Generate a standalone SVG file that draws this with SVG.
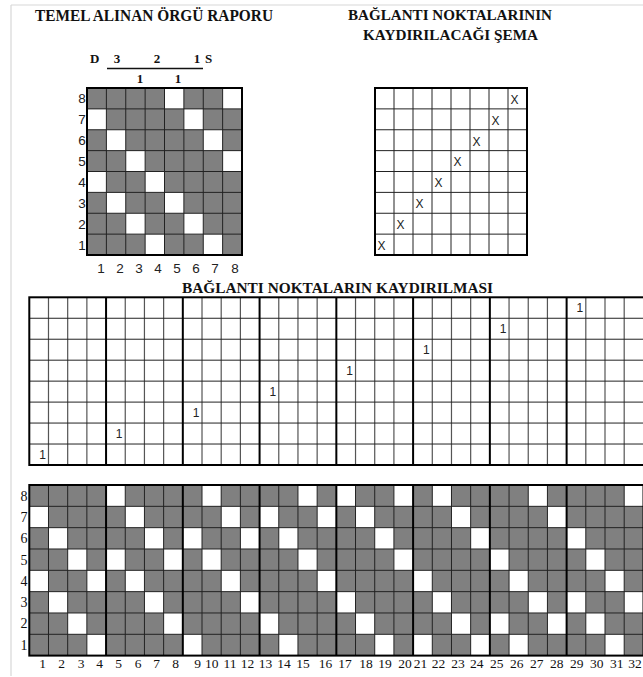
<svg xmlns="http://www.w3.org/2000/svg" width="643" height="677" viewBox="0 0 643 677">
<style>
.ttl{font-family:"Liberation Serif","Times New Roman",serif;font-weight:bold;fill:#111}
.ser{font-family:"Liberation Serif","Times New Roman",serif;fill:#111}
.sans{font-family:"Liberation Sans",Arial,sans-serif;fill:#222}
.gl{fill:none;stroke:#222;stroke-width:1}
.gl2{fill:none;stroke:#555;stroke-width:1.2}
.blk{fill:none;stroke:#000;stroke-width:2}
.wc{fill:#fff}
</style>
<rect x="0" y="0" width="643" height="677" fill="#fff"/>
<path d="M11 5H643M11 5V676" stroke="#d8d8d8" stroke-width="1.2" fill="none"/>

<g id="title-left">
<text class="ttl" x="35" y="21" font-size="16" textLength="238" lengthAdjust="spacingAndGlyphs">TEMEL ALINAN ÖRGÜ RAPORU</text>
</g>
<g id="title-right">
<text class="ttl" x="348" y="20" font-size="15.5" textLength="204" lengthAdjust="spacingAndGlyphs">BAĞLANTI NOKTALARININ</text>
<text class="ttl" x="363" y="40" font-size="15.5" textLength="175" lengthAdjust="spacingAndGlyphs">KAYDIRILACAĞI ŞEMA</text>
</g>

<g id="header-notation">
<text class="ttl" font-size="13" x="90" y="63">D</text>
<text class="ttl" font-size="13" x="117" y="63" text-anchor="middle">3</text>
<text class="ttl" font-size="13" x="157" y="63" text-anchor="middle">2</text>
<text class="ttl" font-size="13" x="197" y="63" text-anchor="middle">1</text>
<text class="ttl" font-size="13" x="205" y="63">S</text>
<path d="M107 68.5H203" stroke="#111" stroke-width="1.4"/>
<text class="ttl" font-size="13" x="140" y="83" text-anchor="middle">1</text>
<text class="ttl" font-size="13" x="178" y="83" text-anchor="middle">1</text>
</g>

<g id="base-report">
<rect x="87" y="88" width="155" height="167" fill="#808080"/>
<g transform="translate(87,88) scale(19.375,20.875)">
<path class="wc" d="M4 0h1v1h-1zM7 0h1v1h-1zM0 1h1v1h-1zM5 1h1v1h-1zM1 2h1v1h-1zM6 2h1v1h-1zM2 3h1v1h-1zM7 3h1v1h-1zM0 4h1v1h-1zM3 4h1v1h-1zM1 5h1v1h-1zM4 5h1v1h-1zM2 6h1v1h-1zM5 6h1v1h-1zM3 7h1v1h-1zM6 7h1v1h-1z"/>
<path class="gl" vector-effect="non-scaling-stroke" d="M1 0V8M2 0V8M3 0V8M4 0V8M5 0V8M6 0V8M7 0V8M0 1H8M0 2H8M0 3H8M0 4H8M0 5H8M0 6H8M0 7H8"/>
</g>
<rect class="blk" x="87" y="88" width="155" height="167"/>
<g class="sans" font-size="13.5" text-anchor="middle">
<text x="82" y="103.4">8</text>
<text x="82" y="124.3">7</text>
<text x="82" y="145.2">6</text>
<text x="82" y="166">5</text>
<text x="82" y="186.9">4</text>
<text x="82" y="207.8">3</text>
<text x="82" y="228.6">2</text>
<text x="82" y="249.5">1</text>
<text x="101" y="273">1</text>
<text x="120" y="273">2</text>
<text x="139" y="273">3</text>
<text x="158" y="273">4</text>
<text x="177" y="273">5</text>
<text x="196" y="273">6</text>
<text x="215" y="273">7</text>
<text x="235" y="273">8</text>
</g>
</g>

<g id="shift-scheme">
<g transform="translate(375,88) scale(19,20.875)">
<path class="gl" vector-effect="non-scaling-stroke" d="M1 0V8M2 0V8M3 0V8M4 0V8M5 0V8M6 0V8M7 0V8M0 1H8M0 2H8M0 3H8M0 4H8M0 5H8M0 6H8M0 7H8"/>
</g>
<rect class="blk" x="375" y="88" width="152" height="167"/>
<g class="sans" font-size="12" text-anchor="middle">
<text x="381.5" y="249.5">X</text>
<text x="400.5" y="228.8">X</text>
<text x="419.5" y="208">X</text>
<text x="438.5" y="187">X</text>
<text x="457.5" y="166.3">X</text>
<text x="476.5" y="145.5">X</text>
<text x="495.5" y="124.7">X</text>
<text x="514.5" y="104">X</text>
</g>
</g>

<g id="title-middle">
<text class="ttl" x="182" y="292.5" font-size="15.5" textLength="311" lengthAdjust="spacingAndGlyphs">BAĞLANTI NOKTALARIN KAYDIRILMASI</text>
</g>

<g id="shift-grid">
<g transform="translate(29.3,297.3) scale(19.19,20.96)">
<path class="gl2" vector-effect="non-scaling-stroke" d="M1 0V8M2 0V8M3 0V8M5 0V8M6 0V8M7 0V8M9 0V8M10 0V8M11 0V8M13 0V8M14 0V8M15 0V8M17 0V8M18 0V8M19 0V8M21 0V8M22 0V8M23 0V8M25 0V8M26 0V8M27 0V8M29 0V8M30 0V8M31 0V8"/>
<path class="gl" vector-effect="non-scaling-stroke" d="M0 1H32M0 2H32M0 3H32M0 4H32M0 5H32M0 6H32M0 7H32"/>
<path class="blk" vector-effect="non-scaling-stroke" d="M4 0V8M8 0V8M12 0V8M16 0V8M20 0V8M24 0V8M28 0V8"/>
</g>
<rect class="blk" x="29.3" y="297.3" width="616" height="167.7"/>
<g class="sans" font-size="12" text-anchor="middle">
<text x="42.6" y="458.5">1</text>
<text x="119.2" y="437.5">1</text>
<text x="196" y="416.6">1</text>
<text x="272.8" y="395.6">1</text>
<text x="349.5" y="374.7">1</text>
<text x="426.3" y="353.7">1</text>
<text x="503" y="332.7">1</text>
<text x="579.8" y="311.8">1</text>
</g>
</g>

<g id="result-grid">
<rect x="29.3" y="485" width="614.2" height="170.6" fill="#808080"/>
<g transform="translate(29.3,485) scale(19.19,21.33)">
<path class="wc" d="M4 0h1v1h-1zM9 0h1v1h-1zM14 0h1v1h-1zM16 0h1v1h-1zM19 0h1v1h-1zM21 0h1v1h-1zM26 0h1v1h-1zM31 0h1v1h-1zM0 1h1v1h-1zM5 1h1v1h-1zM10 1h1v1h-1zM12 1h1v1h-1zM15 1h1v1h-1zM17 1h1v1h-1zM22 1h1v1h-1zM27 1h1v1h-1zM1 2h1v1h-1zM6 2h1v1h-1zM8 2h1v1h-1zM11 2h1v1h-1zM13 2h1v1h-1zM18 2h1v1h-1zM23 2h1v1h-1zM28 2h1v1h-1zM2 3h1v1h-1zM4 3h1v1h-1zM7 3h1v1h-1zM9 3h1v1h-1zM14 3h1v1h-1zM19 3h1v1h-1zM24 3h1v1h-1zM29 3h1v1h-1zM0 4h1v1h-1zM3 4h1v1h-1zM5 4h1v1h-1zM10 4h1v1h-1zM15 4h1v1h-1zM20 4h1v1h-1zM25 4h1v1h-1zM30 4h1v1h-1zM1 5h1v1h-1zM6 5h1v1h-1zM11 5h1v1h-1zM16 5h1v1h-1zM21 5h1v1h-1zM26 5h1v1h-1zM28 5h1v1h-1zM31 5h1v1h-1zM2 6h1v1h-1zM7 6h1v1h-1zM12 6h1v1h-1zM17 6h1v1h-1zM22 6h1v1h-1zM24 6h1v1h-1zM27 6h1v1h-1zM29 6h1v1h-1zM3 7h1v1h-1zM8 7h1v1h-1zM13 7h1v1h-1zM18 7h1v1h-1zM20 7h1v1h-1zM23 7h1v1h-1zM25 7h1v1h-1zM30 7h1v1h-1z"/>
<path class="gl" vector-effect="non-scaling-stroke" d="M1 0V8M2 0V8M3 0V8M5 0V8M6 0V8M7 0V8M9 0V8M10 0V8M11 0V8M13 0V8M14 0V8M15 0V8M17 0V8M18 0V8M19 0V8M21 0V8M22 0V8M23 0V8M25 0V8M26 0V8M27 0V8M29 0V8M30 0V8M31 0V8M0 1H32M0 2H32M0 3H32M0 4H32M0 5H32M0 6H32M0 7H32"/>
<path class="blk" vector-effect="non-scaling-stroke" d="M4 0V8M8 0V8M12 0V8M16 0V8M20 0V8M24 0V8M28 0V8"/>
</g>
<rect class="blk" x="29.3" y="485" width="614.2" height="170.6"/>
<g class="ser" font-size="14" text-anchor="end">
<text x="27.5" y="500.5">8</text>
<text x="27.5" y="521.8">7</text>
<text x="27.5" y="543.1">6</text>
<text x="27.5" y="564.5">5</text>
<text x="27.5" y="585.8">4</text>
<text x="27.5" y="607.1">3</text>
<text x="27.5" y="628.4">2</text>
<text x="27.5" y="649.8">1</text>
</g>
<g class="ser" font-size="13.5" text-anchor="middle">
<text x="42.7" y="667.5">1</text>
<text x="61.7" y="667.5">2</text>
<text x="81" y="667.5">3</text>
<text x="99.5" y="667.5">4</text>
<text x="118.5" y="667.5">5</text>
<text x="138" y="667.5">6</text>
<text x="156.7" y="667.5">7</text>
<text x="175.5" y="667.5">8</text>
<text x="197.5" y="667.5">9</text>
<text x="211.7" y="667.5">10</text>
<text x="230" y="667.5">11</text>
<text x="247.5" y="667.5">12</text>
<text x="265.5" y="667.5">13</text>
<text x="284" y="667.5">14</text>
<text x="303" y="667.5">15</text>
<text x="325.5" y="667.5">16</text>
<text x="345" y="667.5">17</text>
<text x="366" y="667.5">18</text>
<text x="385" y="667.5">19</text>
<text x="405" y="667.5">20</text>
<text x="420.5" y="667.5">21</text>
<text x="438.5" y="667.5">22</text>
<text x="458" y="667.5">23</text>
<text x="476.7" y="667.5">24</text>
<text x="496.7" y="667.5">25</text>
<text x="516.7" y="667.5">26</text>
<text x="536.7" y="667.5">27</text>
<text x="556.7" y="667.5">28</text>
<text x="576.7" y="667.5">29</text>
<text x="596.7" y="667.5">30</text>
<text x="616.7" y="667.5">31</text>
<text x="635" y="667.5">32</text>
</g>
</g>
</svg>
